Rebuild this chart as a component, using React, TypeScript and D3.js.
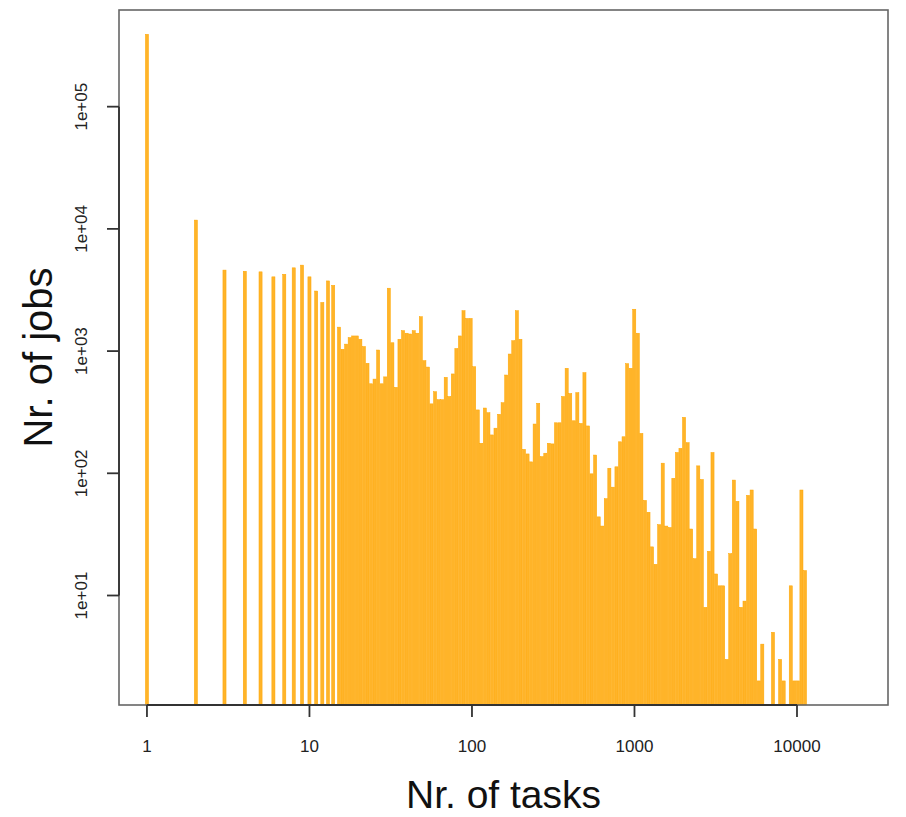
import React, { useEffect, useRef } from 'react';
import * as d3 from 'd3';

// single-task counts, one bar per integer (1..14)
const smallTasks = [1, 2, 3, 4, 5, 6, 7, 8, 9, 10, 11, 12, 13, 14];
const smallJobs = [391000, 11800, 4600, 4500, 4450, 4050, 4250, 4800, 5050, 4050, 3100, 2500, 3750, 3450];

// log spaced bins from ~15 tasks up to ~11200 tasks, 0 = empty bin
const binFirst = 15.2;
const binLast = 11200;
const binJobs = [
  1570, 1035, 1140, 1290, 1330, 1330, 1250, 1090, 795, 540,
  590, 1020, 540, 615, 3270, 1170, 505, 1250, 1470, 1400,
  1380, 1470, 1400, 1910, 835, 740, 370, 465, 400, 400,
  610, 425, 650, 1050, 1330, 2140, 1850, 1850, 745, 330,
  176, 342, 313, 206, 234, 304, 378, 637, 946, 1216,
  2140, 1250, 157, 144, 124, 253, 374, 137, 146, 176,
  174, 259, 259, 425, 723, 450, 269, 457, 256, 666,
  244, 99, 141, 44, 37, 62, 110, 77, 113, 181,
  199, 789, 723, 2200, 1400, 212, 60, 48, 25, 18,
  38, 121, 37, 36, 91, 148, 160, 287, 178, 35,
  20, 115, 89, 8, 23, 148, 15, 12, 12, 3,
  22, 88, 59, 8, 9, 66, 73, 35, 2, 4,
  0, 0, 5, 0, 3, 2, 0, 12, 2, 2,
  73, 16,
];

const xTicks = [1, 10, 100, 1000, 10000];
const yTicks = [1e1, 1e2, 1e3, 1e4, 1e5];
const yTickLabels = ['1e+01', '1e+02', '1e+03', '1e+04', '1e+05'];

const W = 906;
const H = 817;
const FONT = 'Liberation Sans, Arial, Helvetica, sans-serif';

export default function App() {
  const ref = useRef<SVGSVGElement>(null);

  useEffect(() => {
    document.body.style.margin = '0';
    const svg = d3.select(ref.current);
    svg.selectAll('*').remove();

    const plot = { left: 119, right: 888, top: 10, bottom: 705 };

    const x = d3.scaleLog()
      .domain([Math.pow(10, -0.172), Math.pow(10, 4.56)])
      .range([plot.left, plot.right]);
    const y = d3.scaleLog()
      .domain([Math.pow(10, 0.104), Math.pow(10, 5.791)])
      .range([plot.bottom, plot.top]);

    const n = binJobs.length;
    const binTasks = binJobs.map((_, i) => binFirst * Math.pow(binLast / binFirst, i / (n - 1)));

    const bars = smallTasks.map((t, i) => ({ t, v: smallJobs[i] }))
      .concat(binTasks.map((t, i) => ({ t, v: binJobs[i] })))
      .filter(d => d.v > 0);

    const barW = 3.1;
    svg.append('g')
      .selectAll('rect')
      .data(bars)
      .join('rect')
      .attr('x', d => x(d.t) - barW / 2)
      .attr('width', barW)
      .attr('y', d => y(d.v))
      .attr('height', d => plot.bottom - y(d.v))
      .attr('fill', '#ffb429')
      .attr('stroke', '#ffa500')
      .attr('stroke-width', 0.5);

    // box
    svg.append('rect')
      .attr('x', plot.left)
      .attr('y', plot.top)
      .attr('width', plot.right - plot.left)
      .attr('height', plot.bottom - plot.top)
      .attr('fill', 'none')
      .attr('stroke', '#666')
      .attr('stroke-width', 1.6);

    // x axis
    const xa = svg.append('g');
    xa.append('line')
      .attr('x1', x(1)).attr('x2', x(10000))
      .attr('y1', plot.bottom).attr('y2', plot.bottom)
      .attr('stroke', '#333').attr('stroke-width', 1.8);
    xa.selectAll('line.tick')
      .data(xTicks)
      .join('line')
      .attr('class', 'tick')
      .attr('x1', d => x(d)).attr('x2', d => x(d))
      .attr('y1', plot.bottom).attr('y2', plot.bottom + 12)
      .attr('stroke', '#333').attr('stroke-width', 1.8);
    xa.selectAll('text')
      .data(xTicks)
      .join('text')
      .attr('x', d => x(d))
      .attr('y', 752)
      .attr('text-anchor', 'middle')
      .attr('font-family', FONT)
      .attr('font-size', 17)
      .attr('fill', '#222')
      .text(d => String(d));

    // y axis
    const ya = svg.append('g');
    ya.append('line')
      .attr('x1', plot.left).attr('x2', plot.left)
      .attr('y1', y(1e1)).attr('y2', y(1e5))
      .attr('stroke', '#333').attr('stroke-width', 1.8);
    ya.selectAll('line.tick')
      .data(yTicks)
      .join('line')
      .attr('class', 'tick')
      .attr('x1', plot.left - 12).attr('x2', plot.left)
      .attr('y1', d => y(d)).attr('y2', d => y(d))
      .attr('stroke', '#333').attr('stroke-width', 1.8);
    ya.selectAll('text')
      .data(yTicks)
      .join('text')
      .attr('transform', d => `translate(87,${y(d)}) rotate(-90)`)
      .attr('text-anchor', 'middle')
      .attr('font-family', FONT)
      .attr('font-size', 17)
      .attr('fill', '#222')
      .text((d, i) => yTickLabels[i]);

    // axis titles
    svg.append('text')
      .attr('x', (plot.left + plot.right) / 2)
      .attr('y', 808)
      .attr('text-anchor', 'middle')
      .attr('font-family', FONT)
      .attr('font-size', 39)
      .attr('fill', '#111')
      .text('Nr. of tasks');
    svg.append('text')
      .attr('transform', `translate(52,${(plot.top + plot.bottom) / 2}) rotate(-90)`)
      .attr('text-anchor', 'middle')
      .attr('font-family', FONT)
      .attr('font-size', 40)
      .attr('fill', '#111')
      .text('Nr. of jobs');
  }, []);

  return (
    <div style={{ position: 'fixed', left: 0, top: 0 }}>
      <svg ref={ref} width={W} height={H} style={{ display: 'block', background: '#fff' }} />
    </div>
  );
}
